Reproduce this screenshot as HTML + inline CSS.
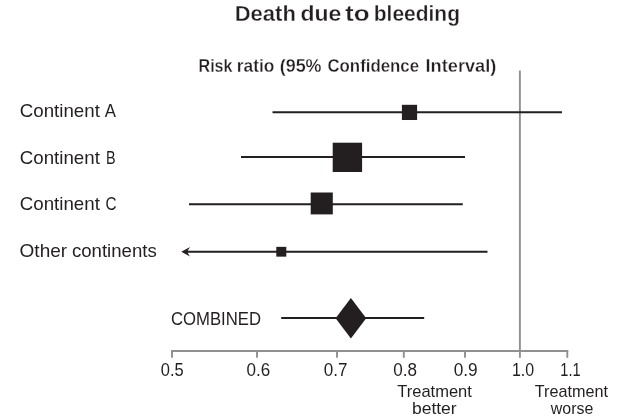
<!DOCTYPE html>
<html lang="en">
<head>
<meta charset="utf-8">
<title>Death due to bleeding</title>
<style>
html,body{margin:0;padding:0;background:#fff;}
body{width:640px;height:420px;overflow:hidden;}
svg{display:block;}
text{font-family:"Liberation Sans",sans-serif;fill:#231f20;}
.b{font-weight:bold;stroke:#ffffff;stroke-width:0.3px;}
</style>
</head>
<body>
<svg width="640" height="420" viewBox="0 0 640 420">
<rect x="0" y="0" width="640" height="420" fill="#ffffff"/>

<!-- reference line + axis -->
<g stroke="#909092" stroke-width="1.9" fill="none">
<line x1="519.9" y1="70.4" x2="519.9" y2="357.8"/>
<line x1="171.1" y1="351" x2="568.25" y2="351"/>
<line x1="172.05" y1="351" x2="172.05" y2="357.8"/>
<line x1="257" y1="351" x2="257" y2="357.8"/>
<line x1="337" y1="351" x2="337" y2="357.8"/>
<line x1="403.8" y1="351" x2="403.8" y2="357.8"/>
<line x1="465" y1="351" x2="465" y2="357.8"/>
<line x1="567.3" y1="351" x2="567.3" y2="357.8"/>
</g>

<!-- CI lines -->
<g stroke="#231f20" stroke-width="2" fill="none">
<line x1="272.5" y1="112.3" x2="562" y2="112.3"/>
<line x1="241" y1="157" x2="465" y2="157"/>
<line x1="189" y1="204.2" x2="462.8" y2="204.2"/>
<line x1="186" y1="251.7" x2="487.5" y2="251.7"/>
<line x1="281.2" y1="318.1" x2="424.2" y2="318.1"/>
</g>

<!-- markers -->
<g fill="#231f20">
<rect x="401.9" y="104.8" width="15.2" height="15.2"/>
<rect x="332.7" y="142.7" width="29.4" height="29.3"/>
<rect x="310.7" y="192.5" width="22.1" height="21.9"/>
<rect x="276.3" y="246.85" width="10" height="9.8"/>
<polygon points="335.6,318.2 350.9,297.9 366.2,318.2 350.9,338.6"/>
<path d="M181.3 251.7 L190 246.9 Q188 249.8 187.3 251.7 Q188 253.6 190 256.5 Z"/>
</g>

<!-- text: titles, row labels, tick labels, axis captions -->
<text class="b" transform="translate(234.67 20.70) scale(1.0349 1)" font-size="21.3">Death</text>
<text class="b" transform="translate(300.38 20.70) scale(1.0812 1)" font-size="21.3">due</text>
<text class="b" transform="translate(345.10 20.70) scale(1.2238 1)" font-size="21.3">to</text>
<text class="b" transform="translate(373.79 20.70) scale(0.9844 1)" font-size="21.3">bleeding</text>
<text class="b" transform="translate(198.54 71.80) scale(0.8749 1)" font-size="18.4">Risk</text>
<text class="b" transform="translate(236.87 71.80) scale(0.9431 1)" font-size="18.4">ratio</text>
<text class="b" transform="translate(279.71 71.80) scale(0.9753 1)" font-size="18.4">(95%</text>
<text class="b" transform="translate(327.42 71.80) scale(0.9158 1)" font-size="18.4">Confidence</text>
<text class="b" transform="translate(425.51 71.80) scale(0.9905 1)" font-size="18.4">Interval)</text>
<text transform="translate(19.82 117.40) scale(1.0455 1)" font-size="17.9">Continent</text>
<text transform="translate(104.70 117.40) scale(0.9396 1)" font-size="17.9">A</text>
<text transform="translate(19.82 163.70) scale(1.0455 1)" font-size="17.9">Continent</text>
<text transform="translate(105.97 163.70) scale(0.8070 1)" font-size="17.9">B</text>
<text transform="translate(19.82 210.40) scale(1.0455 1)" font-size="17.9">Continent</text>
<text transform="translate(105.48 210.40) scale(0.8546 1)" font-size="17.9">C</text>
<text transform="translate(19.61 256.85) scale(1.0607 1)" font-size="17.9">Other</text>
<text transform="translate(71.92 256.85) scale(1.0406 1)" font-size="17.9">continents</text>
<text transform="translate(170.97 325.00) scale(0.9290 1)" font-size="18.0">COMBINED</text>
<text transform="translate(160.73 376.30) scale(0.9374 1)" font-size="17.6">0.5</text>
<text transform="translate(246.47 376.30) scale(0.9697 1)" font-size="17.6">0.6</text>
<text transform="translate(323.72 376.30) scale(0.9697 1)" font-size="17.6">0.7</text>
<text transform="translate(393.22 376.30) scale(0.9697 1)" font-size="17.6">0.8</text>
<text transform="translate(453.71 376.30) scale(0.9805 1)" font-size="17.6">0.9</text>
<text transform="translate(512.00 376.30) scale(0.9050 1)" font-size="17.6">1.0</text>
<text transform="translate(560.34 376.30) scale(0.8277 1)" font-size="17.6">1.1</text>
<text transform="translate(397.24 396.50) scale(1.0329 1)" font-size="16.0">Treatment</text>
<text transform="translate(411.91 414.10) scale(1.0945 1)" font-size="16.0">better</text>
<text transform="translate(534.75 396.50) scale(1.0135 1)" font-size="16.0">Treatment</text>
<text transform="translate(550.85 414.10) scale(0.9969 1)" font-size="16.0">worse</text>
</svg>
</body>
</html>
